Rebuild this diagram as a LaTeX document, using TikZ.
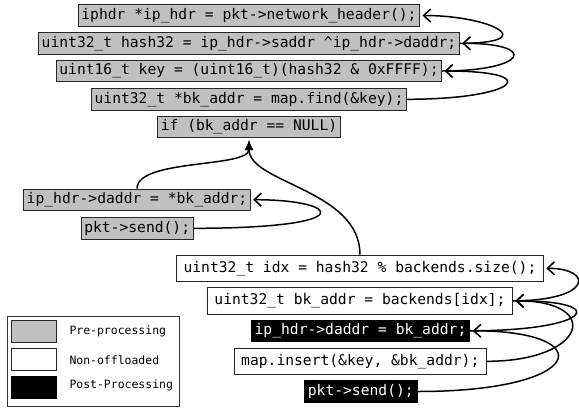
\documentclass[tikz,border=0pt]{standalone}
\usepackage{fontspec}
\newfontfamily\codefont{DejaVu Sans Mono}
\usetikzlibrary{arrows.meta,calc}
\definecolor{preg}{RGB}{192,192,192}
\begin{document}
\begin{tikzpicture}[x=1pt,y=-1pt,
  code/.style={font=\codefont\fontsize{14.65}{17}\selectfont, text height=11pt, text depth=3.5pt, draw=black!85, line width=0.8pt, inner ysep=3.5pt},
  pre/.style={code, fill=preg, inner xsep=3pt},
  non/.style={code, fill=white, inner xsep=7pt, inner ysep=6pt},
  post/.style={code, fill=black, text=white, draw=black, inner xsep=3.5pt},
  dep/.style={line width=1.5pt, shorten >=2.5pt, -{Straight Barb[length=7pt,width=13pt,line width=1.6pt]}},
  ctl/.style={line width=1.5pt, shorten >=2pt, -{Latex[length=10pt,width=9pt]}},
  sw/.style={draw=black!85, line width=0.8pt, minimum width=45pt, minimum height=22.7pt, inner sep=0pt},
  lab/.style={font=\codefont\fontsize{11.46}{13}\selectfont, anchor=west, inner sep=0pt},
]
\useasboundingbox (0,0) rectangle (579,408);

% pre-processing chain
\node[pre] (iphdr) at (249,15.5) {iphdr *ip\_hdr = pkt->network\_header();};
\node[pre] (hash) at (249,43.3) {uint32\_t hash32 = ip\_hdr->saddr \textasciicircum ip\_hdr->daddr;};
\node[pre] (key) at (249,71) {uint16\_t key = (uint16\_t)(hash32 \& 0xFFFF);};
\node[pre] (find) at (249,99.3) {uint32\_t *bk\_addr = map.find(\&key);};
\node[pre] (ifn) at (249,127) {if (bk\_addr == NULL)};

% hit branch
\node[pre] (gdaddr) at (137,199.7) {ip\_hdr->daddr = *bk\_addr;};
\node[pre] (gsend) at (137.2,228.3) {pkt->send();};

% miss branch
\node[non] (idx) at (360,268.3) {uint32\_t idx = hash32 \% backends.size();};
\node[non] (bk) at (360,300.8) {uint32\_t bk\_addr = backends[idx];};
\node[post] (pdaddr) at (360.5,330.8) {ip\_hdr->daddr = bk\_addr;};
\node[non] (ins) at (360.3,361.3) {map.insert(\&key, \&bk\_addr);};
\node[post] (psend) at (360.8,391.5) {pkt->send();};

% legend
\node[draw=black!80, line width=0.8pt, minimum width=172pt, minimum height=90.3pt, inner sep=0pt, anchor=north west] (leg) at (7.3,315.7) {};
\node[sw, fill=preg] (s1) at (34.2,331.3) {};
\node[sw, fill=white] (s2) at (34.2,359.5) {};
\node[sw, fill=black, draw=black] (s3) at (34.2,387.3) {};
\node[lab] (l1) at (69.3,331.7) {Pre-processing};
\node[lab] (l2) at (69.3,359.7) {Non-offloaded};
\node[lab] (l3) at (69.3,385.5) {Post-Processing};

% dependencies, top chain
\draw[dep] (hash.east) .. controls ($(hash.east)+(83,0)$) and ($(iphdr.east)+(72,0)$) .. (iphdr.east);
\draw[dep] (key.east) .. controls ($(key.east)+(85,0)$) and ($(hash.east)+(80,0)$) .. (hash.east);
\draw[dep] (find.east) .. controls ($(find.east)+(110,0)$) and ($(key.east)+(105,0)$) .. (key.east);

% hit branch
\draw[dep] (gsend.east) .. controls ($(gsend.east)+(170,0)$) and ($(gdaddr.east)+(90,0)$) .. (gdaddr.east);
\draw[ctl] (gdaddr.north) .. controls ($(gdaddr.north)+(0,-30)$) and ($(ifn.south)+(0,30)$) .. (ifn.south);
\draw[ctl] (idx.north) .. controls ($(idx.north)+(0,-65)$) and ($(ifn.south)+(0,45)$) .. (ifn.south);

% miss branch
\draw[dep] (bk.east) .. controls ($(bk.east)+(80,0)$) and ($(idx.east)+(50,0)$) .. (idx.east);
\draw[dep] (pdaddr.east) .. controls ($(pdaddr.east)+(120,0)$) and ($(bk.east)+(100,0)$) .. (bk.east);
\draw[dep] (ins.east) .. controls ($(ins.east)+(100,0)$) and ($(bk.east)+(90,0)$) .. (bk.east);
\draw[dep] (psend.east) .. controls ($(psend.east)+(170,0)$) and ($(pdaddr.east)+(130,0)$) .. (pdaddr.east);
\end{tikzpicture}
\end{document}
